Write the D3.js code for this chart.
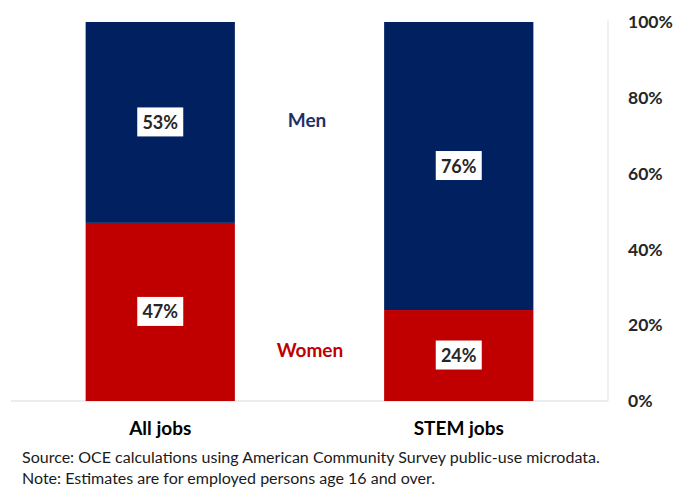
<!DOCTYPE html>
<html>
<head>
<meta charset="utf-8">
<script src="https://cdn.jsdelivr.net/npm/d3@7"></script>
<style>
  html, body { margin: 0; padding: 0; background: #fff; }
  svg { display: block; }
</style>
</head>
<body>
<svg id="chart" width="673" height="487"></svg>
<script>
const categories = ["All jobs", "STEM jobs"];
const women = [47, 24];
const men = [53, 76];
const tickValues = [0, 20, 40, 60, 80, 100];
const seriesNames = ["Women", "Men"];
const sourceLines = [
  "Source: OCE calculations using American Community Survey public-use microdata.",
  "Note: Estimates are for employed persons age 16 and over."
];

const font = "Lato, 'Open Sans', sans-serif";
const colors = { Women: "#C00000", Men: "#002060" };
const labelColors = { Women: "#C00000", Men: "#1F3068" };

const svg = d3.select("#chart");
const x = d3.scaleBand().domain(categories).range([11, 608]).paddingInner(0.5).paddingOuter(0.25);
const y = d3.scaleLinear().domain([0, 100]).range([401, 22]);

const rows = categories.map((c, i) => ({ cat: c, Women: women[i], Men: men[i] }));
const stack = d3.stack().keys(seriesNames)(rows);

// axis lines
svg.append("line").attr("x1", 11).attr("x2", 608).attr("y1", y(0)).attr("y2", y(0))
  .attr("stroke", "#d9d9d9").attr("stroke-width", 1.2);
svg.append("line").attr("x1", 608).attr("x2", 608).attr("y1", y(100) - 2).attr("y2", y(0))
  .attr("stroke", "#e6e6e0").attr("stroke-width", 1.2);

// bars
const layers = svg.selectAll("g.layer").data(stack).join("g").attr("class", "layer")
  .attr("fill", d => colors[d.key]);
layers.selectAll("rect").data(d => d).join("rect")
  .attr("x", d => x(d.data.cat))
  .attr("width", x.bandwidth())
  .attr("y", d => y(d[1]))
  .attr("height", d => y(d[0]) - y(d[1]));

// value labels
stack.forEach(layer => {
  layer.forEach(d => {
    const cx = x(d.data.cat) + x.bandwidth() / 2;
    const cy = (y(d[0]) + y(d[1])) / 2;
    const g = svg.append("g");
    g.append("rect").attr("x", cx - 23).attr("y", cy - 15).attr("width", 46).attr("height", 29)
      .attr("fill", "#fff");
    g.append("text").attr("x", cx).attr("y", cy).attr("dy", "0.36em")
      .attr("text-anchor", "middle").attr("font-family", font).attr("font-weight", "bold")
      .attr("font-size", 18).attr("fill", "#262626")
      .text(d.data[layer.key] + "%");
  });
});

// series labels
svg.append("text").attr("x", 307).attr("y", y(74)).attr("dy", "0.36em").attr("text-anchor", "middle")
  .attr("font-family", font).attr("font-weight", "bold").attr("font-size", 19)
  .attr("fill", labelColors.Men).text(seriesNames[1]);
svg.append("text").attr("x", 310).attr("y", y(13.5)).attr("dy", "0.36em").attr("text-anchor", "middle")
  .attr("font-family", font).attr("font-weight", "bold").attr("font-size", 19)
  .attr("fill", labelColors.Women).text(seriesNames[0]);

// right axis
const yAxis = d3.axisRight(y).tickValues(tickValues).tickFormat(d => d + "%").tickSize(0).tickPadding(0);
const ag = svg.append("g").attr("transform", "translate(628,0)").call(yAxis);
ag.select(".domain").remove();
ag.selectAll("text").attr("font-family", font).attr("font-weight", "bold").attr("font-size", 17.5)
  .attr("fill", "#262626").attr("x", 0);

// category axis
const xAxis = d3.axisBottom(x).tickSize(0).tickPadding(0);
const xg = svg.append("g").attr("transform", "translate(0,421)").call(xAxis);
xg.select(".domain").remove();
xg.selectAll("text").attr("font-family", font).attr("font-weight", "bold").attr("font-size", 19)
  .attr("fill", "#000").attr("dy", "0.71em");

// source notes (size fitted so first line spans the reference width)
const src = svg.selectAll("text.src").data(sourceLines).join("text").attr("class", "src")
  .attr("x", 22).attr("y", (d, i) => 463 + i * 21)
  .attr("font-family", font).attr("font-size", 15).attr("fill", "#1a1a1a")
  .text(d => d);
const w0 = src.node().getComputedTextLength();
const fs = Math.min(17, 15 * 578 / w0);
src.attr("font-size", fs);
</script>
</body>
</html>
